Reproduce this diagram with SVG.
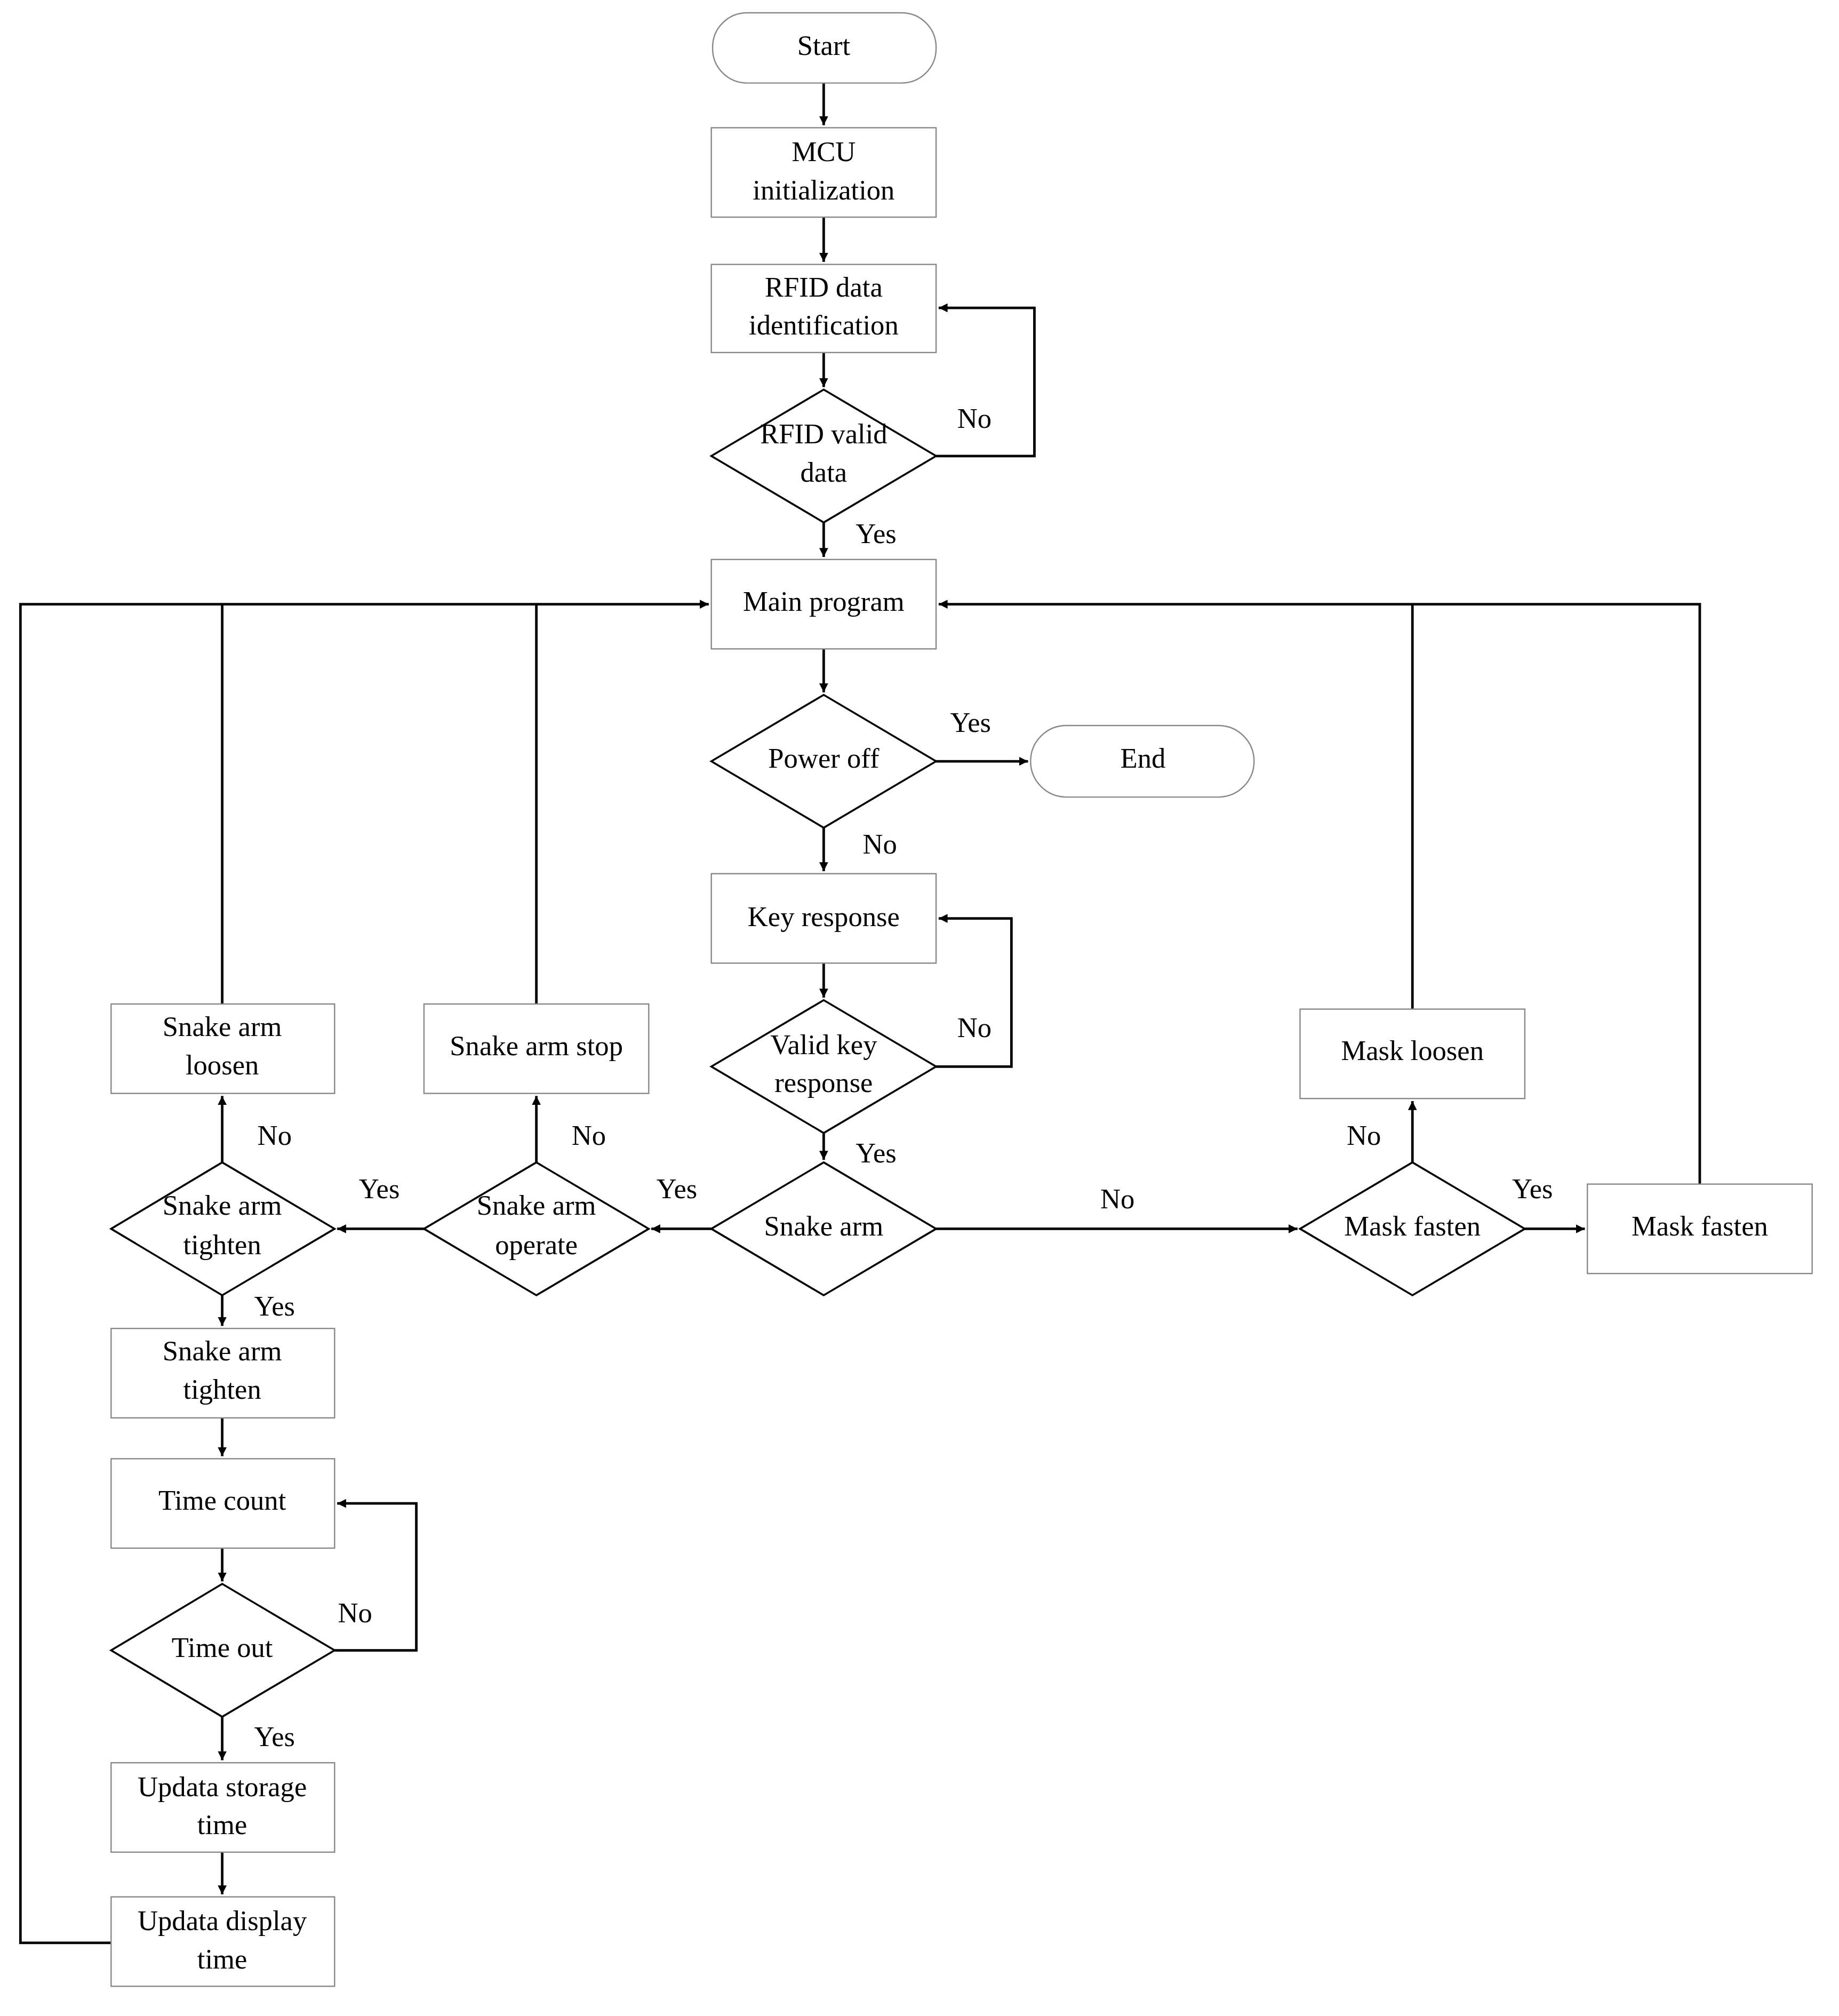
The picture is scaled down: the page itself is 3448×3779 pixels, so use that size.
<svg xmlns="http://www.w3.org/2000/svg" width="3448" height="3779" viewBox="0 0 3448 3779">
<style>
.b{fill:#fff;stroke:#888;stroke-width:1}
.d{fill:#fff;stroke:#000;stroke-width:1.5}
.t{font-family:"Liberation Serif",serif;font-size:22px;fill:#000;text-anchor:middle;dominant-baseline:middle}
.c{fill:none;stroke:#000;stroke-width:2}
</style>
<defs><marker id="a" viewBox="0 0 10 10" refX="10" refY="5" markerWidth="7" markerHeight="7" markerUnits="userSpaceOnUse" orient="auto"><path d="M0,0L10,5L0,10z" fill="#000"/></marker></defs>
<rect width="3448" height="3779" fill="#fff"/>
<g transform="scale(2.3944)">
<g id="connectors" class="c">
<path d="M645,65V98" marker-end="url(#a)" style="marker-end:url(#a)"/>
<path d="M645,170V205" marker-end="url(#a)"/>
<path d="M645,276V303" marker-end="url(#a)"/>
<path d="M733,357H810V241H735" marker-end="url(#a)"/>
<path d="M645,409V436" marker-end="url(#a)"/>
<path d="M645,508V542" marker-end="url(#a)"/>
<path d="M733,596H805" marker-end="url(#a)"/>
<path d="M645,648V682" marker-end="url(#a)"/>
<path d="M645,754V781" marker-end="url(#a)"/>
<path d="M733,835H792V719H735" marker-end="url(#a)"/>
<path d="M645,887V908" marker-end="url(#a)"/>
<path d="M557,962H510" marker-end="url(#a)"/>
<path d="M420,910V858" marker-end="url(#a)"/>
<path d="M420,786V473"/>
<path d="M332,962H264" marker-end="url(#a)"/>
<path d="M174,910V858" marker-end="url(#a)"/>
<path d="M174,786V473"/>
<path d="M174,1014V1038" marker-end="url(#a)"/>
<path d="M174,1110V1140" marker-end="url(#a)"/>
<path d="M174,1212V1238" marker-end="url(#a)"/>
<path d="M262,1292H326V1177H264" marker-end="url(#a)"/>
<path d="M174,1344V1378" marker-end="url(#a)"/>
<path d="M174,1450V1483" marker-end="url(#a)"/>
<path d="M87,1521H16V473H555" marker-end="url(#a)"/>
<path d="M733,962H1016" marker-end="url(#a)"/>
<path d="M1106,910V862" marker-end="url(#a)"/>
<path d="M1106,790V473"/>
<path d="M1194,962H1241" marker-end="url(#a)"/>
<path d="M1331,927V473H735" marker-end="url(#a)"/>
</g>
<g id="n-start"><rect class="b" x="558" y="10" width="175" height="55" rx="27"/><text class="t" x="645" y="38">Start</text></g>
<g id="n-mcu"><rect class="b" x="557" y="100" width="176" height="70"/><text class="t" x="645" y="121">MCU</text><text class="t" x="645" y="151">initialization</text></g>
<g id="n-rfid"><rect class="b" x="557" y="207" width="176" height="69"/><text class="t" x="645" y="227">RFID data</text><text class="t" x="645" y="257">identification</text></g>
<g id="n-rfidvalid"><path class="d" d="M557,357L645,305L733,357L645,409z"/><text class="t" x="645" y="342">RFID valid</text><text class="t" x="645" y="372">data</text></g>
<g id="n-main"><rect class="b" x="557" y="438" width="176" height="70"/><text class="t" x="645" y="473">Main program</text></g>
<g id="n-power"><path class="d" d="M557,596L645,544L733,596L645,648z"/><text class="t" x="645" y="596">Power off</text></g>
<g id="n-end"><rect class="b" x="807" y="568" width="175" height="56" rx="28"/><text class="t" x="895" y="596">End</text></g>
<g id="n-key"><rect class="b" x="557" y="684" width="176" height="70"/><text class="t" x="645" y="720">Key response</text></g>
<g id="n-validkey"><path class="d" d="M557,835L645,783L733,835L645,887z"/><text class="t" x="645" y="820">Valid key</text><text class="t" x="645" y="850">response</text></g>
<g id="n-snake"><path class="d" d="M557,962L645,910L733,962L645,1014z"/><text class="t" x="645" y="962">Snake arm</text></g>
<g id="n-operate"><path class="d" d="M332,962L420,910L508,962L420,1014z"/><text class="t" x="420" y="946">Snake arm</text><text class="t" x="420" y="977">operate</text></g>
<g id="n-stop"><rect class="b" x="332" y="786" width="176" height="70"/><text class="t" x="420" y="821">Snake arm stop</text></g>
<g id="n-tightend"><path class="d" d="M87,962L174,910L262,962L174,1014z"/><text class="t" x="174" y="946">Snake arm</text><text class="t" x="174" y="977">tighten</text></g>
<g id="n-loosen"><rect class="b" x="87" y="786" width="175" height="70"/><text class="t" x="174" y="806">Snake arm</text><text class="t" x="174" y="836">loosen</text></g>
<g id="n-tighten"><rect class="b" x="87" y="1040" width="175" height="70"/><text class="t" x="174" y="1060">Snake arm</text><text class="t" x="174" y="1090">tighten</text></g>
<g id="n-count"><rect class="b" x="87" y="1142" width="175" height="70"/><text class="t" x="174" y="1177">Time count</text></g>
<g id="n-timeout"><path class="d" d="M87,1292L174,1240L262,1292L174,1344z"/><text class="t" x="174" y="1292">Time out</text></g>
<g id="n-storage"><rect class="b" x="87" y="1380" width="175" height="70"/><text class="t" x="174" y="1401">Updata storage</text><text class="t" x="174" y="1431">time</text></g>
<g id="n-display"><rect class="b" x="87" y="1485" width="175" height="70"/><text class="t" x="174" y="1506">Updata display</text><text class="t" x="174" y="1536">time</text></g>
<g id="n-maskd"><path class="d" d="M1018,962L1106,910L1194,962L1106,1014z"/><text class="t" x="1106" y="962">Mask fasten</text></g>
<g id="n-maskloosen"><rect class="b" x="1018" y="790" width="176" height="70"/><text class="t" x="1106" y="825">Mask loosen</text></g>
<g id="n-maskfasten"><rect class="b" x="1243" y="927" width="176" height="70"/><text class="t" x="1331" y="962">Mask fasten</text></g>
<g id="labels">
<text class="t" x="763" y="330">No</text>
<text class="t" x="686" y="420">Yes</text>
<text class="t" x="760" y="568">Yes</text>
<text class="t" x="689" y="663">No</text>
<text class="t" x="763" y="807">No</text>
<text class="t" x="686" y="905">Yes</text>
<text class="t" x="530" y="933">Yes</text>
<text class="t" x="461" y="891">No</text>
<text class="t" x="297" y="933">Yes</text>
<text class="t" x="215" y="891">No</text>
<text class="t" x="215" y="1025">Yes</text>
<text class="t" x="278" y="1265">No</text>
<text class="t" x="215" y="1362">Yes</text>
<text class="t" x="875" y="941">No</text>
<text class="t" x="1068" y="891">No</text>
<text class="t" x="1200" y="933">Yes</text>
</g>
</g>
</svg>
